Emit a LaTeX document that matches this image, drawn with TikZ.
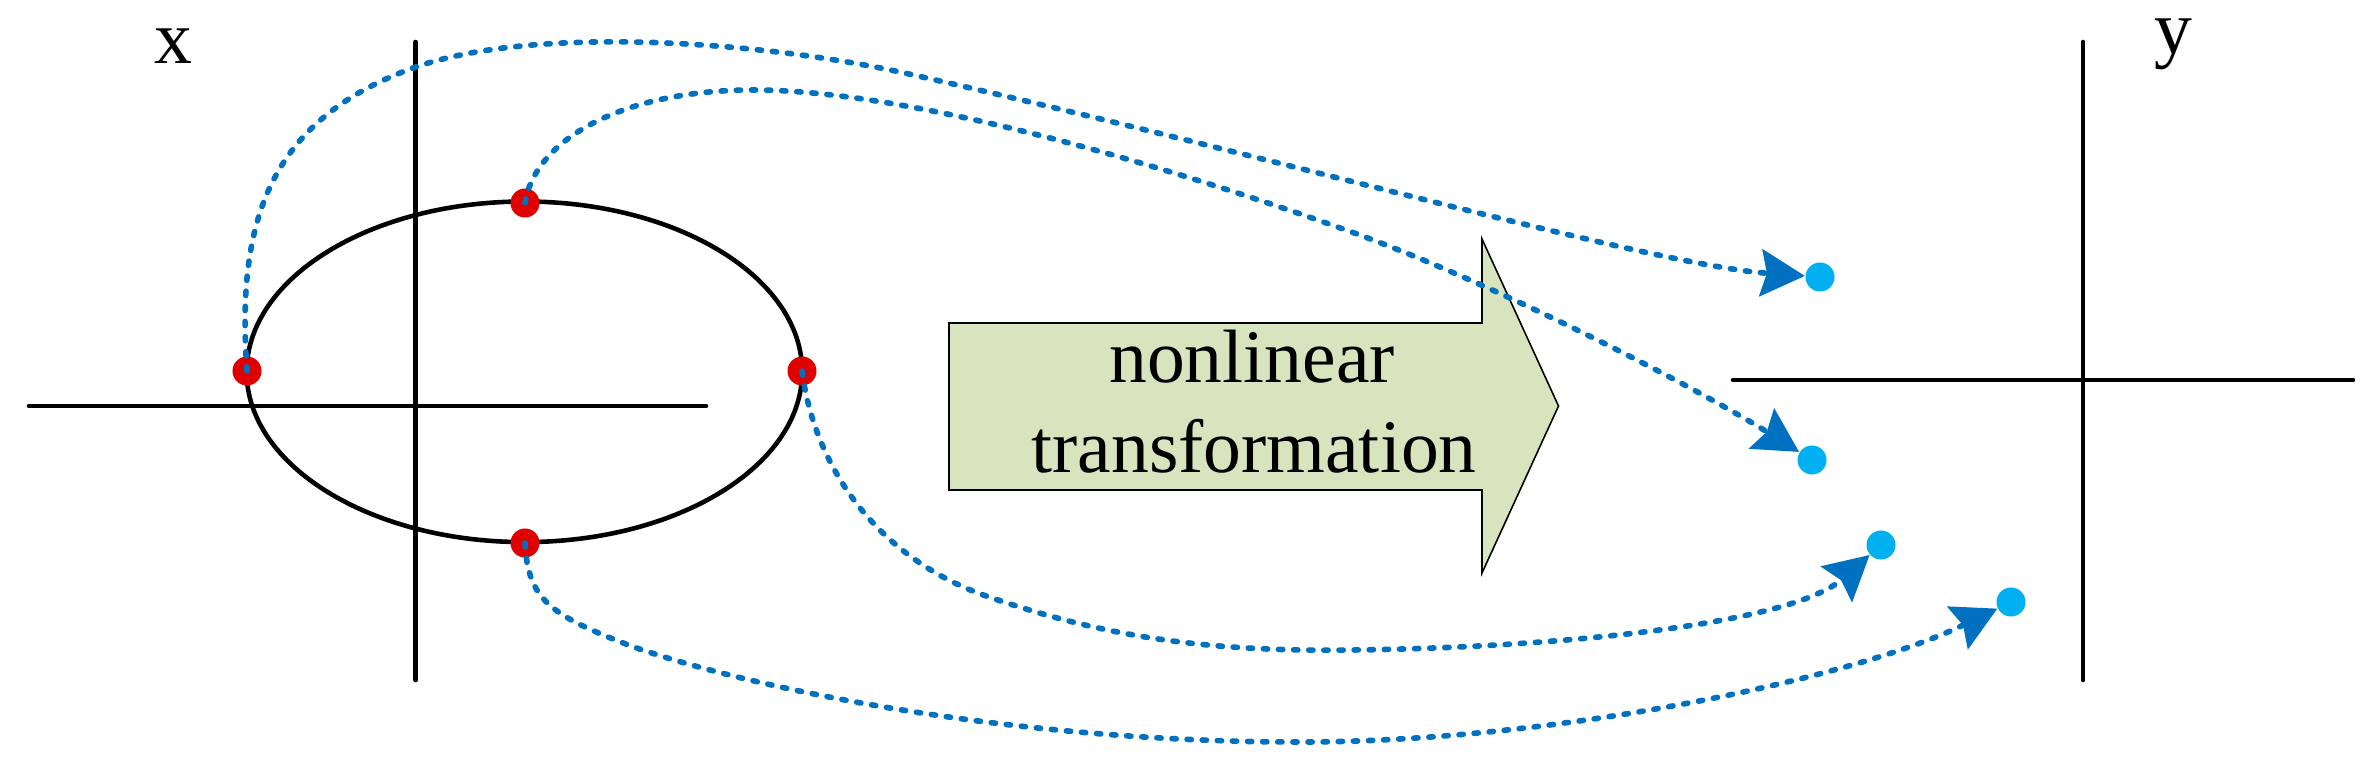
\documentclass[tikz,border=0pt]{standalone}
\usepackage{fontspec}
\setmainfont{Liberation Serif}
\usetikzlibrary{arrows.meta}
\definecolor{lineblue}{HTML}{0070C0}
\definecolor{ptblue}{HTML}{00B0F0}
\definecolor{ptred}{HTML}{E00000}
\definecolor{arrowgreen}{HTML}{D7E4BD}
\begin{document}
\begin{tikzpicture}[x=0.01cm,y=-0.01cm,
  axis/.style={line width=1.3pt, line cap=round},
  reddot/.style={circle, fill=ptred, inner sep=0pt, minimum size=0.29cm},
  bluedot/.style={circle, fill=ptblue, inner sep=0pt, minimum size=0.29cm},
  conn/.style={lineblue, line width=1.6pt, dash pattern=on 1.2pt off 3.1pt, line cap=round,
    -{Stealth[length=0.44cm,width=0.47cm,inset=0.06cm]}},
  lbl/.style={font=\fontsize{21.5}{25.2}\selectfont, inner sep=0pt},
  bigarrow/.style={draw=black, fill=arrowgreen, line width=0.45pt, line join=miter}]
\useasboundingbox (0,0) rectangle (2372,767);

% left coordinate system and ellipse
\draw[axis] (29,406) -- (706,406);
\draw[axis] (415.6,42) -- (415.6,680);
\draw[line width=1.3pt] (524.4,371.8) ellipse [x radius=2.776cm, y radius=1.702cm];

% right coordinate system
\draw[axis] (1733,380) -- (2353,380);
\draw[axis] (2083,42) -- (2083,680);

% labels
\node[lbl, anchor=base] (xl) at (173.6,63.6) {x};
\node[lbl, anchor=base] (yl) at (2173,54) {y};

% block arrow
\draw[bigarrow] (949,323) -- (1482,323) -- (1482,239) -- (1558.5,406) -- (1482,573) -- (1482,490) -- (949,490) -- cycle;
\node[lbl, anchor=base] (t1) at (1252,383) {nonlinear};
\node[lbl, anchor=base] (t2) at (1254,472) {transformation};

% points
\node[reddot] (p1) at (247,371) {};
\node[reddot] (p2) at (525,203) {};
\node[reddot] (p3) at (802,371) {};
\node[reddot] (p4) at (525,543) {};
\node[bluedot] (q1) at (1820,277) {};
\node[bluedot] (q2) at (1812,460) {};
\node[bluedot] (q3) at (1881,545) {};
\node[bluedot] (q4) at (2011,602) {};

% mappings
\draw[conn] (p1.center) .. controls (236,220) and (270,120) .. (413,68)
  .. controls (530,26) and (750,40) .. (900,72)
  .. controls (1250,150) and (1650,265) .. (q1);
\draw[conn] (p2.center) .. controls (535,140) and (620,92) .. (746,90)
  .. controls (900,88) and (1150,160) .. (1346,230)
  .. controls (1500,285) and (1700,390) .. (q2);
\draw[conn] (p3.center) .. controls (815,470) and (880,560) .. (989,597)
  .. controls (1100,635) and (1200,652) .. (1350,650)
  .. controls (1550,648) and (1790,625) .. (q3);
\draw[conn] (p4.center) .. controls (528,600) and (550,615) .. (631,646)
  .. controls (740,685) and (1000,742) .. (1300,742)
  .. controls (1550,742) and (1850,680) .. (q4);
\end{tikzpicture}
\end{document}
